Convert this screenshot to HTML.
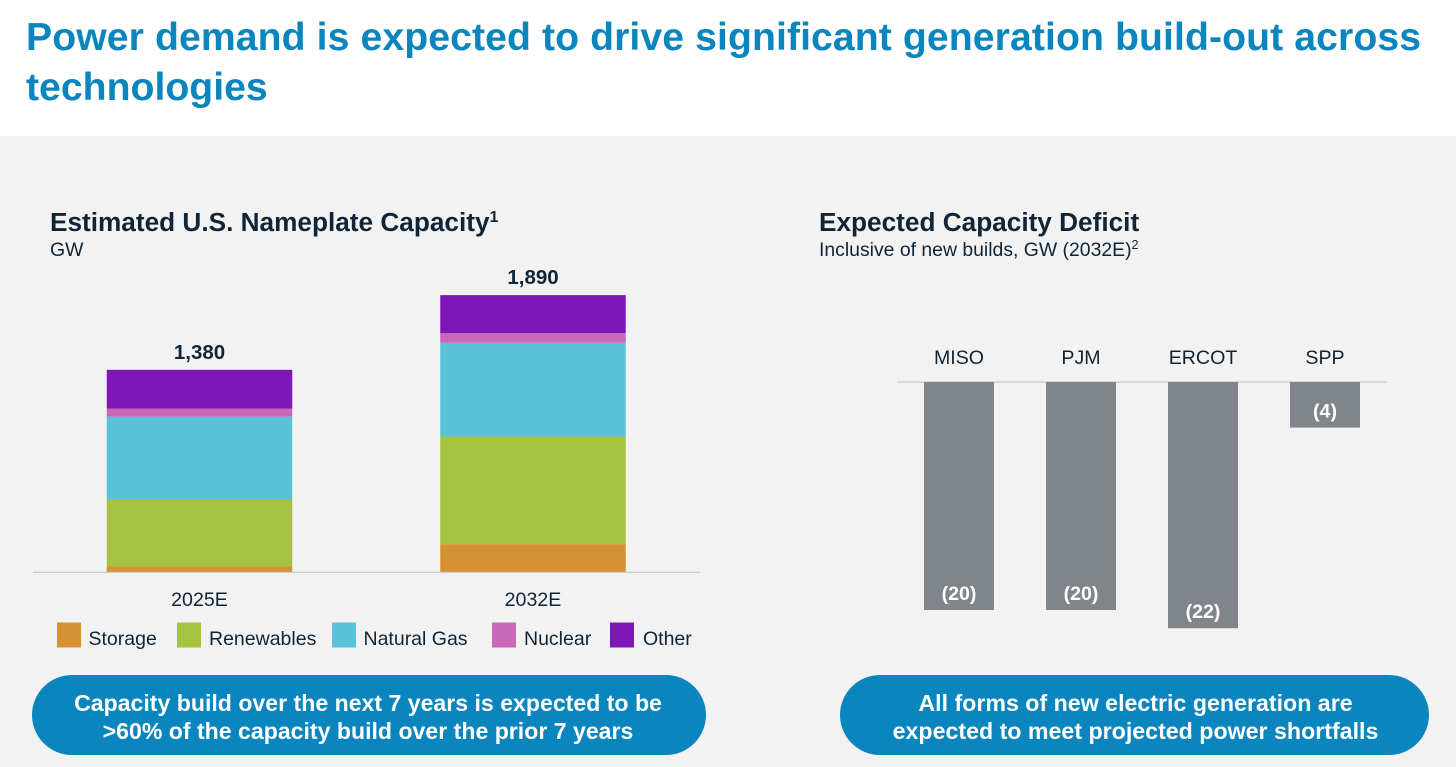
<!DOCTYPE html>
<html lang="en">
<head>
<meta charset="utf-8">
<title>Power demand is expected to drive significant generation build-out</title>
<style>
html,body{margin:0;padding:0;background:#fff;}
body{width:1456px;height:767px;overflow:hidden;position:relative;font-family:"Liberation Sans",Arial,sans-serif;}
svg{position:absolute;left:0;top:0;display:block;}
text{font-family:"Liberation Sans",Arial,sans-serif;}
</style>
</head>
<body>
<svg id="slide" width="1456" height="767" viewBox="0 0 1456 767" xmlns="http://www.w3.org/2000/svg">
  <rect x="0" y="0" width="1456" height="136" fill="#ffffff"/>
  <rect x="0" y="136" width="1456" height="631" fill="#f2f2f2"/>
  <g fill="#0a85bd" font-size="39.2" font-weight="700">
    <text x="26" y="50" textLength="1395" lengthAdjust="spacing">Power demand is expected to drive significant generation build-out across</text>
    <text x="26" y="100">technologies</text>
  </g>

  <text x="50" y="231" font-size="26.2" font-weight="700" fill="#0f2537">Estimated U.S. Nameplate Capacity<tspan font-size="16" dy="-9">1</tspan></text>
  <text x="50" y="256" font-size="19.4" fill="#0f2537">GW</text>

  <text x="819" y="231" font-size="26.2" font-weight="700" fill="#0f2537">Expected Capacity Deficit</text>
  <text x="819" y="256" font-size="19.4" fill="#0f2537">Inclusive of new builds, GW (2032E)<tspan font-size="12.5" dy="-7">2</tspan></text>

  <g id="capacity-chart"></g>
  <g id="deficit-chart"></g>

  <g>
    <rect x="32" y="675" width="674" height="80" rx="40" ry="40" fill="#0a85bd"/>
    <text x="368" y="711" text-anchor="middle" font-size="23.1" font-weight="700" fill="#ffffff">Capacity build over the next 7 years is expected to be</text>
    <text x="368" y="739" text-anchor="middle" font-size="23.1" font-weight="700" fill="#ffffff">&gt;60% of the capacity build over the prior 7 years</text>
  </g>
  <g>
    <rect x="840" y="675" width="589" height="80" rx="40" ry="40" fill="#0a85bd"/>
    <text x="1135.5" y="711" text-anchor="middle" font-size="23.2" font-weight="700" fill="#ffffff">All forms of new electric generation are</text>
    <text x="1135.5" y="739" text-anchor="middle" font-size="23.2" font-weight="700" fill="#ffffff">expected to meet projected power shortfalls</text>
  </g>
</svg>
<script>
// Capacity chart data (GW)
var capacityYears = ['2025E', '2032E'];
var capacityTotals = ['1,380', '1,890'];
var seriesNames = ['Storage', 'Renewables', 'Natural Gas', 'Nuclear', 'Other'];
var seriesColors = ['#d69133', '#a5c241', '#59c1d8', '#c968b9', '#7d17b8'];
var storage = [40, 190];
var renewables = [455, 735];
var naturalGas = [565, 640];
var nuclear = [55, 65];
var other = [265, 260];

// Deficit chart data (GW, 2032E)
var deficitRegions = ['MISO', 'PJM', 'ERCOT', 'SPP'];
var deficitValues = [20, 20, 21.6, 4];
var deficitLabels = ['(20)', '(20)', '(22)', '(4)'];

var NS = 'http://www.w3.org/2000/svg';
function mk(parent, tag, attrs, txt) {
  var el = document.createElementNS(NS, tag);
  for (var k in attrs) { el.setAttribute(k, attrs[k]); }
  if (txt !== undefined) { el.textContent = txt; }
  parent.appendChild(el);
  return el;
}
function slug(s) { return String(s).toLowerCase().replace(/[^a-z0-9]+/g, '-'); }

// Capacity chart
(function () {
  var g = document.getElementById('capacity-chart');
  var baseY = 572;
  var barW = 185.5;
  var centers = [199.5, 533];
  var pxPerGW = 0.1465;
  function yLen(v) { return v * pxPerGW; }
  var allSeries = [storage, renewables, naturalGas, nuclear, other];

  capacityYears.forEach(function (year, i) {
    var cum = 0;
    allSeries.forEach(function (vals, s) {
      var h = yLen(vals[i]);
      var r = mk(g, 'rect', { x: centers[i] - barW / 2, y: baseY - cum - h, width: barW, height: h, fill: seriesColors[s] });
      
      
      cum += h;
    });
    var total = mk(g, 'text', { x: centers[i], y: baseY - cum - 11, 'text-anchor': 'middle', 'font-size': 20.5, 'font-weight': 700, fill: '#0f2537' }, capacityTotals[i]);
    
    
    var tick = mk(g, 'text', { x: centers[i], y: 606, 'text-anchor': 'middle', 'font-size': 19.6, fill: '#0f2537' }, year);
    
    
  });

  var axis = mk(g, 'line', { x1: 33, x2: 700, y1: baseY + 0.3, y2: baseY + 0.3, stroke: '#bfbfbf', 'stroke-width': 1 });
  
  

  var swatchX = [57, 177, 332, 492, 610];
  var textX = [88.5, 209, 363.5, 524, 643];
  seriesNames.forEach(function (name, s) {
    var sw = mk(g, 'rect', { x: swatchX[s], y: 622.5, width: 24, height: 25, fill: seriesColors[s] });
    
    
    var t = mk(g, 'text', { x: textX[s], y: 645, 'font-size': 19.5, fill: '#0f2537' }, name);
    
    
  });
})();

// Deficit chart
(function () {
  var g = document.getElementById('deficit-chart');
  var baseY = 382;
  var barW = 70;
  var centers = [959, 1081, 1203, 1325];
  var pxPerGW = 11.4;
  function yLen(v) { return v * pxPerGW; }

  var axis = mk(g, 'line', { x1: 897, x2: 1387, y1: baseY, y2: baseY, stroke: '#bfbfbf', 'stroke-width': 1 });
  
  

  deficitRegions.forEach(function (region, i) {
    var h = yLen(deficitValues[i]);
    var r = mk(g, 'rect', { x: centers[i] - barW / 2, y: baseY, width: barW, height: h, fill: '#80858b' });
    
    
    var t = mk(g, 'text', { x: centers[i], y: 364, 'text-anchor': 'middle', 'font-size': 19.6, fill: '#0f2537' }, region);
    
    
    var v = mk(g, 'text', { x: centers[i], y: baseY + h - 10, 'text-anchor': 'middle', 'font-size': 19.6, 'font-weight': 700, fill: '#ffffff' }, deficitLabels[i]);
    
    
  });
})();
</script>
</body>
</html>
